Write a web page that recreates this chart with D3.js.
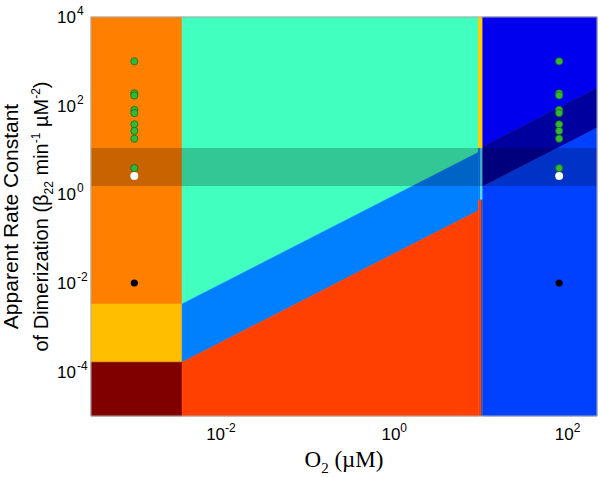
<!DOCTYPE html>
<html>
<head>
<meta charset="utf-8">
<script src="https://cdn.jsdelivr.net/npm/d3@7/dist/d3.min.js"></script>
<style>
  html, body { margin: 0; padding: 0; background: #fff; }
  svg { display: block; }
</style>
</head>
<body>
<svg id="chart" width="601" height="477"></svg>
<script>
// ---------- data ----------
const xDomain = [Math.pow(10, -3.5), 218.8];      // O2 (µM)
const yDomain = [1e-5, 1e4];                      // beta22
const xTicks = [1e-2, 1, 1e2];
const yTicks = [1e-4, 1e-2, 1, 1e2, 1e4];
const xTickExp = ["-2", "0", "2"];
const yTickExp = ["-4", "-2", "0", "2", "4"];

const o2Boundary = 0.00356;          // edge of left column
const stripLo = 9.31, stripMid = 9.85, stripHi = 10.35; // narrow vertical strip
const kUpperMid = 0.944;             // teal / blue boundary  beta = k*O2
const kLowerMid = 0.046;             // blue / red boundary
const kUpperRight = 1.15;            // blue / navy boundary
const kLowerRight = 0.143;           // navy / light-blue boundary
const stripBreaks = [11, 0.75];      // strip colour changes
const band = [1.54, 11.1];           // shaded horizontal band

const pointO2 = [0.001, 80];
const greenBeta = [1000, 190, 170, 80, 68, 38, 27, 18, 3.9];
const whiteBeta = [2.6];
const blackBeta = [0.01];

// ---------- layout ----------
const L = 91, R = 597, T = 17, B = 416;
const svg = d3.select("#chart");
const x = d3.scaleLog().domain(xDomain).range([L, R]);
const y = d3.scaleLog().domain(yDomain).range([B, T]);
const [xmin, xmax] = xDomain, [ymin, ymax] = yDomain;

const line = d3.line().x(d => x(d[0])).y(d => y(d[1]));
const g = svg.append("g");
function poly(pts, color, sw) {
  g.append("path").attr("d", line(pts) + "Z")
    .attr("fill", color).attr("stroke", color).attr("stroke-width", sw === undefined ? 0.6 : sw);
}

// left column
const b = o2Boundary;
poly([[xmin, ymax], [b, ymax], [b, kUpperMid * b], [xmin, kUpperMid * b]], "#FF8000");
poly([[xmin, kUpperMid * b], [b, kUpperMid * b], [b, kLowerMid * b], [xmin, kLowerMid * b]], "#FFBF00");
poly([[xmin, kLowerMid * b], [b, kLowerMid * b], [b, ymin], [xmin, ymin]], "#800000");

// middle region
const s1 = stripLo;
poly([[b, ymax], [s1, ymax], [s1, kUpperMid * s1], [b, kUpperMid * b]], "#40FFBF");
poly([[b, kUpperMid * b], [s1, kUpperMid * s1], [s1, kLowerMid * s1], [b, kLowerMid * b]], "#0080FF");
poly([[b, kLowerMid * b], [s1, kLowerMid * s1], [s1, ymin], [b, ymin]], "#FF4000");

// right region
const s2 = stripHi;
poly([[s2, ymax], [xmax, ymax], [xmax, kUpperRight * xmax], [s2, kUpperRight * s2]], "#0000EF");
poly([[s2, kUpperRight * s2], [xmax, kUpperRight * xmax], [xmax, kLowerRight * xmax], [s2, kLowerRight * s2]], "#00009F");
poly([[s2, kLowerRight * s2], [xmax, kLowerRight * xmax], [xmax, ymin], [s2, ymin]], "#0040FF");

// narrow strip
poly([[s1, ymax], [s2, ymax], [s2, stripBreaks[0]], [s1, stripBreaks[0]]], "#FFCC00", 0.3);
poly([[s1, stripBreaks[0]], [stripMid, stripBreaks[0]], [stripMid, stripBreaks[1]], [s1, stripBreaks[1]]], "#0080FF", 0.3);
poly([[stripMid, stripBreaks[0]], [s2, stripBreaks[0]], [s2, stripBreaks[1]], [stripMid, stripBreaks[1]]], "#50D8FF", 0.3);
poly([[s1, stripBreaks[1]], [stripMid, stripBreaks[1]], [stripMid, ymin], [s1, ymin]], "#FF4000", 0.3);
poly([[stripMid, stripBreaks[1]], [s2, stripBreaks[1]], [s2, ymin], [stripMid, ymin]], "#8E4450", 0.3);

// shaded band
g.append("rect")
  .attr("x", L).attr("width", R - L)
  .attr("y", y(band[1])).attr("height", y(band[0]) - y(band[1]))
  .attr("fill", "#000").attr("fill-opacity", 0.22);

// points
const pts = [];
pointO2.forEach(o => {
  greenBeta.forEach(v => pts.push({o, v, t: "g"}));
  whiteBeta.forEach(v => pts.push({o, v, t: "w"}));
  blackBeta.forEach(v => pts.push({o, v, t: "k"}));
});
g.selectAll("circle.pt").data(pts).enter().append("circle")
  .attr("class", "pt")
  .attr("cx", d => x(d.o)).attr("cy", d => y(d.v))
  .attr("r", d => d.t === "w" ? 4 : 3.6)
  .attr("fill", d => d.t === "g" ? "#33B833" : d.t === "w" ? "#FFFFFF" : "#000000")
  .attr("stroke", d => d.t === "g" ? "#1D6A1D" : "none")
  .attr("stroke-width", 0.8);

// axes box
svg.append("rect").attr("x", L).attr("y", T).attr("width", R - L).attr("height", B - T)
  .attr("fill", "none").attr("stroke", "#A8A8A8").attr("stroke-width", 1);

// tick labels
const sans = "'Liberation Sans', Arial, Helvetica, sans-serif";
const serif = "'Liberation Serif', 'Times New Roman', Times, serif";

const yt = svg.append("g").attr("font-family", sans).attr("fill", "#000");
yTicks.forEach((v, i) => {
  yt.append("text").attr("x", 76).attr("y", y(v) + 6).attr("text-anchor", "end")
    .attr("font-size", 17).text("10");
  yt.append("text").attr("x", 77).attr("y", y(v) - 2).attr("text-anchor", "start")
    .attr("font-size", 12).text(yTickExp[i]);
});

const xt = svg.append("g").attr("font-family", sans).attr("fill", "#000");
xTicks.forEach((v, i) => {
  const t = xt.append("text").attr("x", x(v)).attr("y", 440).attr("text-anchor", "middle")
    .attr("font-size", 17);
  t.append("tspan").text("10");
  t.append("tspan").attr("font-size", 12).attr("dy", -8).text(xTickExp[i]);
});

// x label
const xl = svg.append("text").attr("x", (L + R) / 2).attr("y", 467)
  .attr("text-anchor", "middle").attr("font-family", serif).attr("font-size", 23);
xl.append("tspan").text("O");
xl.append("tspan").attr("font-size", 15).attr("dy", 6).text("2");
xl.append("tspan").attr("dy", -6).text(" (\u00B5M)");

// y label (two lines)
const cy = (T + B) / 2;
svg.append("text").attr("transform", `translate(18,${cy}) rotate(-90)`)
  .attr("text-anchor", "middle").attr("font-family", sans).attr("font-size", 21)
  .text("Apparent Rate Constant");
const yl2 = svg.append("text").attr("transform", `translate(48,${cy}) rotate(-90)`)
  .attr("text-anchor", "middle").attr("font-family", sans).attr("font-size", 20);
yl2.append("tspan").text("of Dimerization (\u03B2");
yl2.append("tspan").attr("font-size", 12).attr("dy", 5).text("22");
yl2.append("tspan").attr("dy", -5).text(" min");
yl2.append("tspan").attr("font-size", 12).attr("dy", -8).text("-1");
yl2.append("tspan").attr("dy", 8).text(" \u00B5M");
yl2.append("tspan").attr("font-size", 12).attr("dy", -8).text("-2");
yl2.append("tspan").attr("dy", 8).text(")");
</script>
</body>
</html>
